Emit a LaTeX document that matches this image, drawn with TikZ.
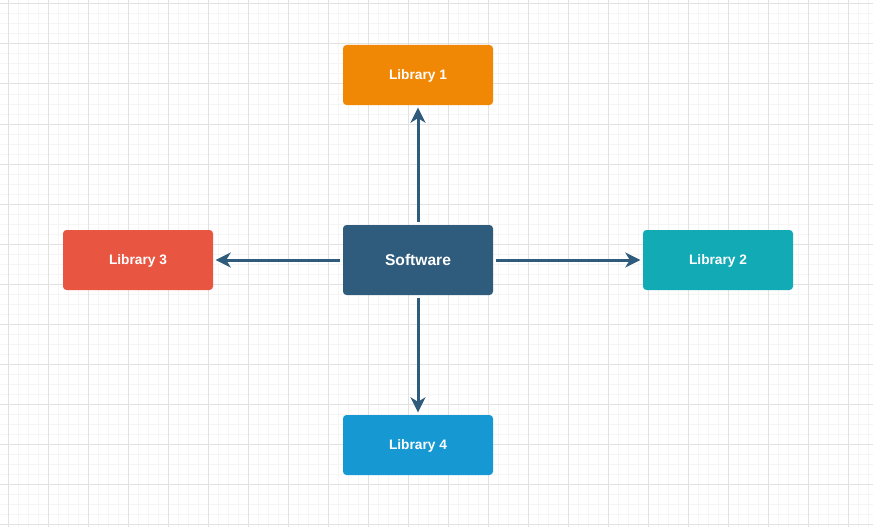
\documentclass[tikz,border=0pt]{standalone}
\usepackage{fontspec}
\setmainfont{Liberation Sans}
\usetikzlibrary{arrows.meta}
\definecolor{swblue}{HTML}{2F5B7C}
\definecolor{libor}{HTML}{F08705}
\definecolor{libte}{HTML}{12AAB5}
\definecolor{libre}{HTML}{E85642}
\definecolor{libbl}{HTML}{1699D3}
\definecolor{gridmaj}{HTML}{E2E2E2}
\definecolor{gridmin}{HTML}{F5F5F5}
\tikzset{
  box/.style={rectangle, rounded corners=3.5pt, minimum width=150pt, minimum height=60pt,
    inner sep=0pt, text=white, text height=9.8pt, text depth=0pt,
    font=\fontsize{13.7}{16}\selectfont\bfseries},
  conn/.style={draw=swblue, line width=3pt,
    -{Stealth[length=15pt,width=15pt,inset=4.5pt]}, shorten <=3pt, shorten >=2.5pt}
}
\begin{document}
\begin{tikzpicture}[x=1pt,y=-1pt]
\useasboundingbox (0,0) rectangle (873,527);
\fill[white] (0,0) rectangle (873,527);
\foreach \x in {8,18,...,873} \draw[gridmin, line width=1pt] (\x,0) -- (\x,527);
\foreach \y in {4,14,...,527} \draw[gridmin, line width=1pt] (0,\y) -- (873,\y);
\foreach \x in {8,48,...,873} \draw[gridmaj, line width=1pt] (\x,0) -- (\x,527);
\foreach \y in {4,44,...,527} \draw[gridmaj, line width=1pt] (0,\y) -- (873,\y);

\node[box, fill=swblue, minimum height=70pt, text height=11.2pt,
  font=\fontsize{15.6}{18}\selectfont\bfseries] (sw) at (418,260) {Software};
\node[box, fill=libor] (l1) at (418,75) {Library 1};
\node[box, fill=libte] (l2) at (718,260) {Library 2};
\node[box, fill=libre] (l3) at (138,260) {Library 3};
\node[box, fill=libbl] (l4) at (418,445) {Library 4};

\draw[conn] (sw.north) -- (l1.south);
\draw[conn] (sw.east) -- (l2.west);
\draw[conn] (sw.west) -- (l3.east);
\draw[conn] (sw.south) -- (l4.north);
\end{tikzpicture}
\end{document}
